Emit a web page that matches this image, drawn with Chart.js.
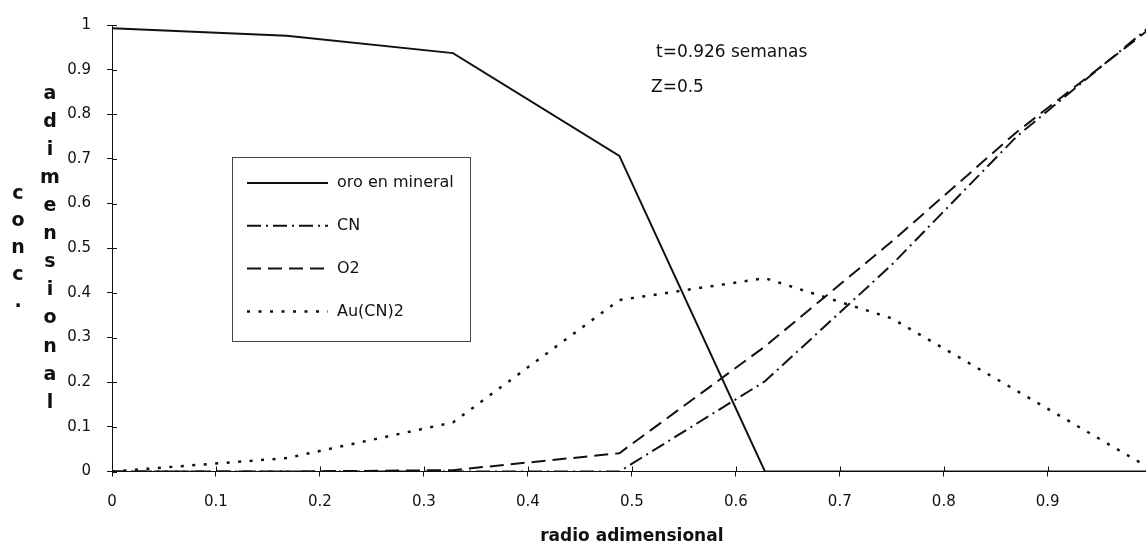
<!DOCTYPE html>
<html lang="es">
<head>
<meta charset="UTF-8">
<title>Perfiles de concentración</title>
<script src="https://cdn.jsdelivr.net/npm/chart.js"></script>
<style>
  html, body { margin: 0; padding: 0; background: #fff; overflow: hidden; }
  /* el lienzo es algo más ancho que la ventana: el extremo x=1 queda justo fuera */
  .wrap { position: relative; width: 1170px; height: 548px; }
</style>
</head>
<body>
<div class="wrap"><canvas id="perfil"></canvas></div>
<script>
// puntos radiales de la malla
const radio = [0, 0.168, 0.328, 0.488, 0.628, 0.75, 0.87, 1];

// concentraciones adimensionales
const oroMineral = [0.993, 0.976, 0.937, 0.707, 0, 0, 0, 0];
const cianuro    = [0, 0, 0, 0, 0.202, 0.463, 0.75, 1.0];
const oxigeno    = [0, 0, 0.003, 0.041, 0.28, 0.515, 0.76, 0.995];
const complejo   = [0, 0.03, 0.11, 0.384, 0.433, 0.343, 0.181, 0.005];

const etiquetas = ['oro en mineral', 'CN', 'O2', 'Au(CN)2'];
const notas = ['t=0.926 semanas', 'Z=0.5'];
const tituloX = 'radio adimensional';
const tituloY = ['conc.', 'adimensional'];

const negro = '#111';
const fuente = '"DejaVu Sans", sans-serif';

function serie(label, valores, dash, ancho) {
  return {
    label: label,
    data: radio.map((r, i) => ({ x: r, y: valores[i] })),
    borderColor: negro,
    borderWidth: ancho,
    borderDash: dash,
    pointRadius: 0,
    tension: 0,
    fill: false
  };
}

// título vertical en letras apiladas, notas, leyenda y marcas interiores de los ejes
const extras = {
  id: 'extras',
  afterDraw(chart) {
    const ctx = chart.ctx;
    const area = chart.chartArea;
    ctx.save();
    ctx.fillStyle = negro;
    ctx.strokeStyle = negro;

    // marcas de división hacia dentro
    ctx.lineWidth = 1;
    const sx = chart.scales.x, sy = chart.scales.y;
    sy.ticks.forEach(t => {
      const y = Math.round(sy.getPixelForValue(t.value)) + 0.5;
      ctx.beginPath(); ctx.moveTo(area.left, y); ctx.lineTo(area.left + 5, y); ctx.stroke();
    });
    sx.ticks.forEach(t => {
      const x = Math.round(sx.getPixelForValue(t.value)) + 0.5;
      ctx.beginPath(); ctx.moveTo(x, area.bottom); ctx.lineTo(x, area.bottom - 5); ctx.stroke();
    });

    // eje y: dos columnas de letras
    ctx.font = 'bold 19px ' + fuente;
    ctx.textAlign = 'center';
    ctx.textBaseline = 'middle';
    const medio = (area.top + area.bottom) / 2;
    [[18, tituloY[0], 27], [50, tituloY[1], 28.1]].forEach(([x, txt, paso]) => {
      [...txt].forEach((c, i) => {
        ctx.fillText(c, x, medio + (i - (txt.length - 1) / 2) * paso);
      });
    });

    // notas
    ctx.font = '17px ' + fuente;
    ctx.textAlign = 'left';
    ctx.fillText(notas[0], 656, 53);
    ctx.fillText(notas[1], 651, 88);

    // leyenda
    ctx.lineWidth = 1;
    ctx.strokeStyle = '#444';
    ctx.strokeRect(232.5, 157.5, 238, 184);
    ctx.font = '16px ' + fuente;
    chart.data.datasets.forEach((ds, i) => {
      const y = 183 + i * 42.8;
      ctx.save();
      ctx.strokeStyle = ds.borderColor;
      ctx.lineWidth = ds.borderWidth;
      ctx.setLineDash(ds.borderDash);
      ctx.beginPath(); ctx.moveTo(247, y); ctx.lineTo(328, y); ctx.stroke();
      ctx.restore();
      ctx.fillText(ds.label, 337, y);
    });
    ctx.restore();
  }
};

const numero = v => String(Math.round(v * 10) / 10);

new Chart(document.getElementById('perfil'), {
  type: 'line',
  data: {
    datasets: [
      serie(etiquetas[0], oroMineral, [], 2),
      serie(etiquetas[1], cianuro, [14, 5, 2, 5], 2),
      serie(etiquetas[2], oxigeno, [14, 7], 2),
      serie(etiquetas[3], complejo, [3, 8.5], 2.5)
    ]
  },
  options: {
    responsive: true,
    maintainAspectRatio: false,
    animation: false,
    layout: { padding: { left: 0, right: 18.3, top: 20.6, bottom: 0 } },
    plugins: { legend: { display: false }, tooltip: { enabled: false } },
    scales: {
      x: {
        type: 'linear',
        min: 0,
        max: 1,
        afterFit: s => { s.height = 76.5; },
        // la etiqueta del 1 cae fuera del borde derecho
        ticks: { stepSize: 0.1, color: negro, font: { family: fuente, size: 15 }, padding: 17, callback: v => v > 0.95 ? '' : numero(v), maxRotation: 0 },
        grid: { drawOnChartArea: false, tickLength: 5, color: negro },
        border: { color: negro, width: 1 },
        title: { display: true, text: tituloX, color: negro, font: { family: fuente, size: 17, weight: 'bold' }, padding: { top: 4, bottom: 1 } }
      },
      y: {
        min: 0,
        max: 1,
        afterFit: s => { s.width = 112; },
        ticks: { stepSize: 0.1, color: negro, font: { family: fuente, size: 15 }, padding: 16, callback: numero },
        grid: { drawOnChartArea: false, tickLength: 5, color: negro },
        border: { color: negro, width: 1 }
      }
    }
  },
  plugins: [extras]
});
</script>
</body>
</html>
